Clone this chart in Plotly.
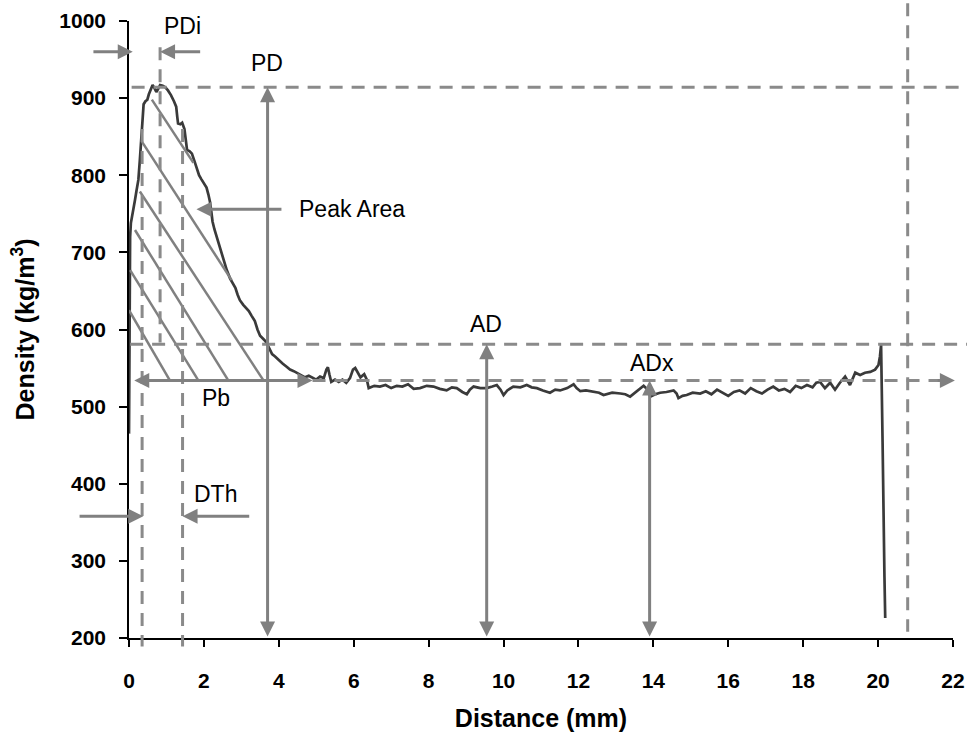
import plotly.graph_objects as go

# ---------------- data ----------------
distance_mm = [0.00, 0.01, 0.02, 0.03, 0.05, 0.08, 0.12, 0.16, 0.20, 0.25, 0.29, 0.32, 0.34, 0.36, 0.39,
               0.44, 0.49, 0.53, 0.58, 0.63, 0.68, 0.73, 0.78, 0.83, 0.90, 0.97, 1.04, 1.12, 1.20, 1.26,
               1.29, 1.31, 1.37, 1.42, 1.48, 1.52, 1.55, 1.62, 1.68, 1.75, 1.81, 1.87, 1.93, 2.00, 2.07,
               2.12, 2.16, 2.20, 2.23, 2.28, 2.34, 2.40, 2.47, 2.54, 2.61, 2.70, 2.78, 2.84, 2.90, 2.96,
               3.05, 3.13, 3.20, 3.27, 3.36, 3.43, 3.50, 3.58, 3.64, 3.70, 3.76, 3.82, 3.90, 4.00, 4.10,
               4.20, 4.30, 4.40, 4.50, 4.60, 4.70, 4.80, 4.90, 5.00, 5.10, 5.20, 5.27, 5.31, 5.35, 5.40,
               5.50, 5.60, 5.70, 5.80, 5.90, 5.98, 6.04, 6.10, 6.18, 6.28, 6.35, 6.40, 6.55, 6.70, 6.85,
               7.00, 7.15, 7.30, 7.45, 7.60, 7.77, 7.95, 8.13, 8.30, 8.48, 8.62, 8.75, 8.90, 9.02, 9.10,
               9.20, 9.38, 9.55, 9.70, 9.82, 9.92, 10.00, 10.10, 10.26, 10.45, 10.62, 10.75, 10.89, 11.05,
               11.24, 11.38, 11.51, 11.70, 11.87, 11.95, 12.05, 12.20, 12.40, 12.55, 12.67, 12.90, 13.12,
               13.25, 13.38, 13.55, 13.74, 13.85, 13.92, 14.05, 14.18, 14.35, 14.54, 14.62, 14.67, 14.78,
               14.89, 15.05, 15.25, 15.40, 15.55, 15.70, 15.85, 16.00, 16.15, 16.30, 16.45, 16.60, 16.75,
               16.90, 17.05, 17.20, 17.35, 17.50, 17.65, 17.80, 17.95, 18.10, 18.25, 18.35, 18.45, 18.58,
               18.72, 18.85, 18.98, 19.12, 19.25, 19.39, 19.52, 19.65, 19.79, 19.92, 20.01, 20.05, 20.08,
               20.10, 20.12, 20.17, 20.19]
density = [465, 560, 650, 720, 738, 748, 758, 768, 780, 794, 820, 845, 862, 880, 892,
           896, 898, 905, 910, 917, 913, 908, 912, 917, 916, 914, 910, 904, 896, 889,
           875, 867, 866, 868, 860, 845, 833, 831, 828, 818, 810, 800, 795, 790, 784,
           775, 766, 752, 740, 730, 720, 710, 699, 688, 677, 666, 659, 654, 645, 638,
           632, 627, 624, 618, 611, 600, 592, 588, 585, 580, 573, 568, 565, 560, 556,
           552, 548, 546, 543, 541, 538, 540, 537, 535, 539, 537, 548, 551, 542, 532,
           535, 532, 535, 531, 537, 548, 550, 544, 538, 542, 535, 524, 527, 526, 528,
           524, 527, 526, 529, 523, 524, 527, 526, 523, 521, 525, 524, 519, 516, 522,
           526, 524, 524, 526, 528, 522, 515, 521, 526, 525, 528, 525, 524, 521,
           518, 522, 521, 524, 529, 524, 520, 521, 519, 518, 515, 518, 517,
           516, 513, 520, 527, 522, 513, 516, 518, 519, 521, 517, 511, 514,
           515, 518, 517, 520, 516, 522, 518, 514, 519, 521, 517, 524, 520,
           517, 522, 526, 521, 523, 519, 527, 524, 528, 525, 531, 532, 524,
           531, 522, 531, 539, 528, 544, 541, 544, 545, 548, 554, 565, 580,
           535, 453, 279, 226]

x_ticks = [0, 2, 4, 6, 8, 10, 12, 14, 16, 18, 20, 22]
y_ticks = [200, 300, 400, 500, 600, 700, 800, 900, 1000]
x_range = [0, 22]
y_range = [200, 1000]

# characteristic levels / positions
PD_level = 914
AD_level = 581
ADx_level = 534
PDi_x = 0.83
DTh_start = 0.35
DTh_end = 1.43
PD_x = 3.70
AD_x = 9.55
ADx_x = 13.9
end_x = 20.79
Pb_end = 4.9

# hatch lines of the peak area (upper-left -> lower-right)
hatch_x0 = [0.61, 0.34, 0.29, 0.16, 0.03, 0.00]
hatch_y0 = [898, 844, 779, 729, 677, 625]
hatch_x1 = [1.72, 2.74, 3.59, 2.65, 1.85, 1.09]
hatch_y1 = [816, 664, 534, 534, 534, 534]

label_text = ["PDi", "PD", "Peak Area", "AD", "ADx", "Pb", "DTh"]
label_x = [1.42, 3.68, 5.95, 9.53, 13.97, 2.32, 2.30]
label_y = [994, 945, 756, 607, 557, 511, 387]

# ---------------- styles ----------------
CURVE = "#3a3a3a"
GREY = "#808080"
DASH_C = "#8a8a8a"
DASH = "13px,9px"
FONT = "Liberation Sans, Arial, sans-serif"


def ypaper(v):
    return (v - y_range[0]) / (y_range[1] - y_range[0])


def xpaper(v):
    return (v - x_range[0]) / (x_range[1] - x_range[0])


fig = go.Figure()
fig.add_trace(go.Scatter(x=distance_mm, y=density, mode="lines",
                         line=dict(color=CURVE, width=2.7), showlegend=False,
                         hoverinfo="x+y"))

shapes = []
# hatch
for a, b, c, d in zip(hatch_x0, hatch_y0, hatch_x1, hatch_y1):
    shapes.append(dict(type="line", xref="x", yref="y", x0=a, y0=b, x1=c, y1=d,
                       line=dict(color=GREY, width=2.5)))

dl = dict(color=DASH_C, width=3, dash=DASH)
# horizontal dashed lines
shapes.append(dict(type="line", xref="paper", yref="y", x0=xpaper(0.07), x1=1.02,
                   y0=PD_level, y1=PD_level, line=dl))
shapes.append(dict(type="line", xref="paper", yref="y", x0=xpaper(0.03), x1=1.02,
                   y0=AD_level, y1=AD_level, line=dl))
shapes.append(dict(type="line", xref="x", yref="y", x0=Pb_end, x1=21.6,
                   y0=ADx_level, y1=ADx_level, line=dl))
# vertical dashed lines
shapes.append(dict(type="line", xref="x", yref="y", x0=PDi_x, x1=PDi_x,
                   y0=966, y1=583, line=dl))
shapes.append(dict(type="line", xref="x", yref="paper", x0=DTh_start, x1=DTh_start,
                   y0=ypaper(860), y1=ypaper(189), line=dl))
shapes.append(dict(type="line", xref="x", yref="paper", x0=DTh_end, x1=DTh_end,
                   y0=ypaper(860), y1=ypaper(189), line=dl))
shapes.append(dict(type="line", xref="x", yref="paper", x0=end_x, x1=end_x,
                   y0=ypaper(1023), y1=ypaper(208), line=dl))

annotations = []


def arrow(tip_x, tip_y, tail_x, tail_y, both=False):
    d = dict(x=tip_x, y=tip_y, ax=tail_x, ay=tail_y, xref="x", yref="y",
             axref="x", ayref="y", text="", showarrow=True, arrowhead=2,
             arrowsize=1, arrowwidth=3, arrowcolor=GREY, standoff=0)
    if both:
        d.update(arrowside="end+start", startarrowhead=2, startarrowsize=1, startstandoff=0)
    annotations.append(d)


# PDi
arrow(0.10, 960, -0.99, 960)
arrow(PDi_x, 960, 1.94, 960)
# Peak area pointer
arrow(1.80, 756, 4.11, 756)
# DTh
arrow(DTh_start + 0.03, 358, -1.36, 358)
arrow(DTh_end, 358, 3.25, 358)
# Pb double
arrow(Pb_end, ADx_level, 0.10, ADx_level, both=True)
# PD, AD, ADx double vertical
arrow(PD_x, PD_level, PD_x, 200, both=True)
arrow(AD_x, AD_level, AD_x, 200, both=True)
arrow(ADx_x, ADx_level, ADx_x, 200, both=True)
# ADx dashed line arrow head
arrow(22.05, ADx_level, 21.55, ADx_level)

for t, xx, yy in zip(label_text, label_x, label_y):
    annotations.append(dict(x=xx, y=yy, xref="x", yref="y", text=t, showarrow=False,
                            font=dict(family=FONT, size=23, color="black")))

fig.update_layout(
    width=967, height=732, autosize=False,
    margin=dict(l=129, r=14, t=21, b=94, autoexpand=False),
    paper_bgcolor="white", plot_bgcolor="white",
    font=dict(family=FONT, color="black"),
    shapes=shapes, annotations=annotations, showlegend=False,
)
fig.update_xaxes(range=x_range, tickvals=x_ticks, showline=True, linecolor="black", linewidth=1.5,
                 ticks="outside", ticklen=7, tickwidth=1.5, tickcolor="black", automargin=False,
                 showgrid=False, zeroline=False, ticklabelstandoff=16,
                 tickfont=dict(family=FONT, size=21, weight="bold", color="black"),
                 title=dict(text="Distance (mm)", standoff=23,
                            font=dict(family=FONT, size=25, weight="bold", color="black")))
fig.update_yaxes(range=y_range, tickvals=y_ticks, showline=True, linecolor="black", linewidth=1.5,
                 ticks="outside", ticklen=8, tickwidth=1.5, tickcolor="black", automargin=False,
                 showgrid=False, zeroline=False, ticklabelstandoff=9,
                 tickfont=dict(family=FONT, size=21, weight="bold", color="black"),
                 title=dict(text="Density (kg/m<sup>3</sup>)", standoff=18,
                            font=dict(family=FONT, size=25, weight="bold", color="black")))

fig.write_html("out.html")
